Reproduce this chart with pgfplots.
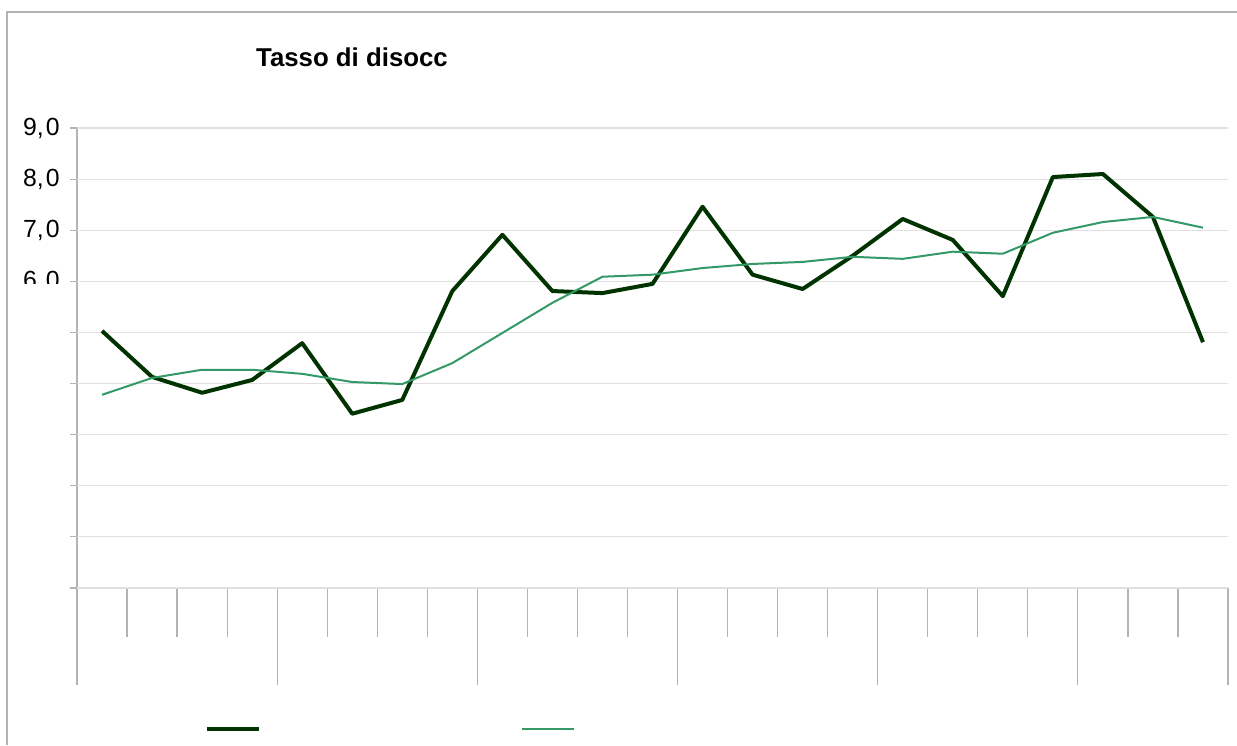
\documentclass[border=0pt]{standalone}
\usepackage{pgfplots}
\pgfplotsset{compat=1.18}
\usepackage{fontspec}
\setmainfont{Liberation Sans}
\definecolor{darkline}{HTML}{003300}
\definecolor{lightline}{HTML}{339966}
\definecolor{axgray}{HTML}{B3B3B3}
\definecolor{gridgray}{HTML}{E0E0E0}
\begin{document}
\begin{tikzpicture}
\useasboundingbox (0,0) rectangle (618.5pt,372.5pt);
\fill[white] (0,0) rectangle (618.5pt,372.5pt);
\draw[axgray, line width=0.6pt] (3.5pt,0pt) -- (3.5pt,366.5pt) -- (618.5pt,366.5pt);
\node[font=\bfseries\fontsize{12.9}{15}\selectfont, anchor=center] at (176pt,344pt) {Tasso di disocc};
\begin{axis}[
  at={(38.5pt,78.5pt)}, anchor=south west,
  scale only axis, width=575.5pt, height=230pt,
  xmin=-0.5, xmax=22.5, ymin=0, ymax=9,
  axis x line=bottom, axis y line=left,
  axis line style={axgray, line width=0.6pt, -},
  tick align=outside,
  xtick={0.5,1.5,2.5,4.5,5.5,6.5,8.5,9.5,10.5,12.5,13.5,14.5,16.5,17.5,18.5,20.5,21.5},
  xticklabels={},
  major tick length=24.5pt,
  extra x ticks={-0.5,3.5,7.5,11.5,15.5,19.5,22.5},
  extra x tick labels={},
  extra x tick style={major tick length=48.5pt},
  ytick=\empty,
  extra y ticks={0,1,2,3,4,5,6,7,8,9},
  extra y tick labels={,,,,,,{6,\kern1pt0},{7,\kern1pt0},{8,\kern1pt0},{9,\kern1pt0}},
  extra y tick style={major tick length=3.5pt, grid=major},
  tick style={axgray, line width=0.6pt},
  grid style={gridgray, line width=0.6pt},
  /pgf/number format/assume math mode=true,
  yticklabel style={font=\fontsize{12.4}{14}\selectfont, inner sep=5pt},
  legend style={at={(0.1112,-0.3065)}, anchor=west, draw=none, fill=none,
    legend columns=2, inner sep=0pt, nodes={inner sep=0pt},
    /tikz/every even column/.append style={column sep=129pt}},
  legend image code/.code={\draw[#1] (0pt,0pt) -- (26pt,0pt);},
  clip=false,
]
\addplot[darkline, line width=2pt, line join=round] coordinates {
(0,5.03) (1,4.13) (2,3.82) (3,4.07) (4,4.79) (5,3.41) (6,3.68) (7,5.81)
(8,6.91) (9,5.81) (10,5.77) (11,5.95) (12,7.46) (13,6.13) (14,5.85) (15,6.50)
(16,7.22) (17,6.81) (18,5.71) (19,8.04) (20,8.10) (21,7.26) (22,4.81)};
\addlegendentry{}
\addplot[lightline, line width=1pt, line join=round] coordinates {
(0,3.78) (1,4.11) (2,4.27) (3,4.27) (4,4.19) (5,4.03) (6,3.99) (7,4.40)
(8,4.99) (9,5.58) (10,6.09) (11,6.13) (12,6.26) (13,6.34) (14,6.38) (15,6.48)
(16,6.44) (17,6.58) (18,6.54) (19,6.95) (20,7.16) (21,7.26) (22,7.05)};
\addlegendentry{}
\end{axis}
\fill[white] (6pt,222pt) rectangle (34.5pt,230.5pt);
\end{tikzpicture}
\end{document}
